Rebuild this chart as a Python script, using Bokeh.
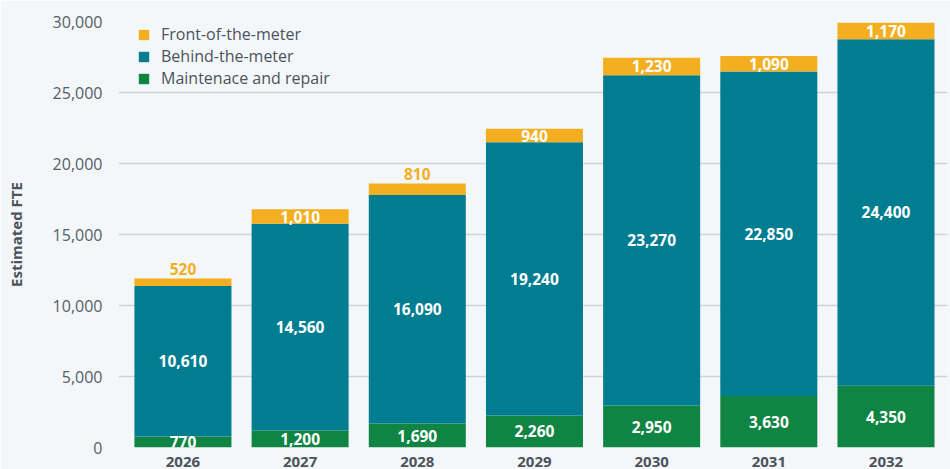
from bokeh.plotting import figure
from bokeh.models import (Range1d, FixedTicker, NumeralTickFormatter, Legend, LegendItem,
                          ColumnDataSource)
from bokeh.core.properties import value
from bokeh.embed import file_html
from bokeh.resources import INLINE

years = ["2026", "2027", "2028", "2029", "2030", "2031", "2032"]
maintenance = [770, 1200, 1690, 2260, 2950, 3630, 4350]
behind_meter = [10610, 14560, 16090, 19240, 23270, 22850, 24400]
front_meter = [520, 1010, 810, 940, 1230, 1090, 1170]
y_ticks = [0, 5000, 10000, 15000, 20000, 25000, 30000]

C_GREEN = "#108543"
C_TEAL = "#007d91"
C_ORANGE = "#f3af1f"
BG = "#f4f7f9"
FONT = "Open Sans"
TXT = "#4b535c"

xs = list(range(len(years)))
src = ColumnDataSource(dict(x=xs, maint=maintenance, btm=behind_meter, ftm=front_meter))

p = figure(frame_width=829, frame_height=426, output_backend="svg", toolbar_location=None,
           x_range=Range1d(-0.55, 6.525), y_range=Range1d(0, 30000),
           min_border_left=118, min_border_right=3, min_border_top=21, min_border_bottom=22,
           background_fill_color=BG, border_fill_color=BG, outline_line_color=None)

rs = p.vbar_stack(["maint", "btm", "ftm"], x="x", width=0.828, source=src,
                  color=[C_GREEN, C_TEAL, C_ORANGE], line_color=None)

# labels
lx, ly, lt, lc, lo = [], [], [], [], []
for i in xs:
    m, b, f = maintenance[i], behind_meter[i], front_meter[i]
    lx += [i, i]
    ly += [m / 2, m + b / 2]
    lt += [f"{m:,}", f"{b:,}"]
    lc += ["white", "white"]
    lo += [0, 0]
    lx.append(i)
    if f < 900:
        ly.append(m + b + f)
        lc.append(C_ORANGE)
        lo.append(-10)
    else:
        ly.append(m + b + f / 2)
        lc.append("white")
        lo.append(0)
    lt.append(f"{f:,}")
lsrc = ColumnDataSource(dict(x=lx, y=ly, t=lt, c=lc, o=lo))
p.text(x="x", y="y", text="t", source=lsrc, text_color="c", y_offset="o",
       text_align="center", text_baseline="middle", text_font=value(FONT),
       text_font_size="15.5px", text_font_style="bold")

# axes
p.yaxis.ticker = FixedTicker(ticks=y_ticks)
p.yaxis.formatter = NumeralTickFormatter(format="0,0")
p.yaxis.major_tick_line_color = None
p.yaxis.minor_tick_line_color = None
p.yaxis.axis_line_color = None
p.yaxis.major_label_standoff = 10
p.yaxis.major_label_text_font = FONT
p.yaxis.major_label_text_font_size = "16px"
p.yaxis.major_label_text_color = "#555e66"
p.yaxis.axis_label = "Estimated FTE"
p.yaxis.axis_label_text_font = FONT
p.yaxis.axis_label_text_font_size = "15px"
p.yaxis.axis_label_text_font_style = "bold"
p.yaxis.axis_label_text_color = TXT
p.yaxis.axis_label_standoff = 24

p.xaxis.ticker = FixedTicker(ticks=xs)
p.xaxis.major_label_overrides = {i: y for i, y in zip(xs, years)}
p.xaxis.major_tick_line_color = None
p.xaxis.minor_tick_line_color = None
p.xaxis.axis_line_color = None
p.xaxis.major_label_standoff = 3
p.xaxis.major_label_text_font = FONT
p.xaxis.major_label_text_font_size = "15px"
p.xaxis.major_label_text_font_style = "bold"
p.xaxis.major_label_text_color = TXT

p.xgrid.grid_line_color = None
p.ygrid.grid_line_color = "#cfd3d7"
p.ygrid.grid_line_width = 1.5

legend = Legend(items=[LegendItem(label="Front-of-the-meter", renderers=[rs[2]]),
                       LegendItem(label="Behind-the-meter", renderers=[rs[1]]),
                       LegendItem(label="Maintenace and repair", renderers=[rs[0]])],
                location=(19, 358), glyph_width=13, glyph_height=13, label_standoff=11,
                spacing=0, padding=0, margin=0, border_line_color=None,
                background_fill_alpha=0, label_text_font=FONT, label_text_font_size="16px",
                label_text_color=TXT, label_height=21)
p.add_layout(legend)

open("out.html", "w").write(file_html(p, INLINE))
